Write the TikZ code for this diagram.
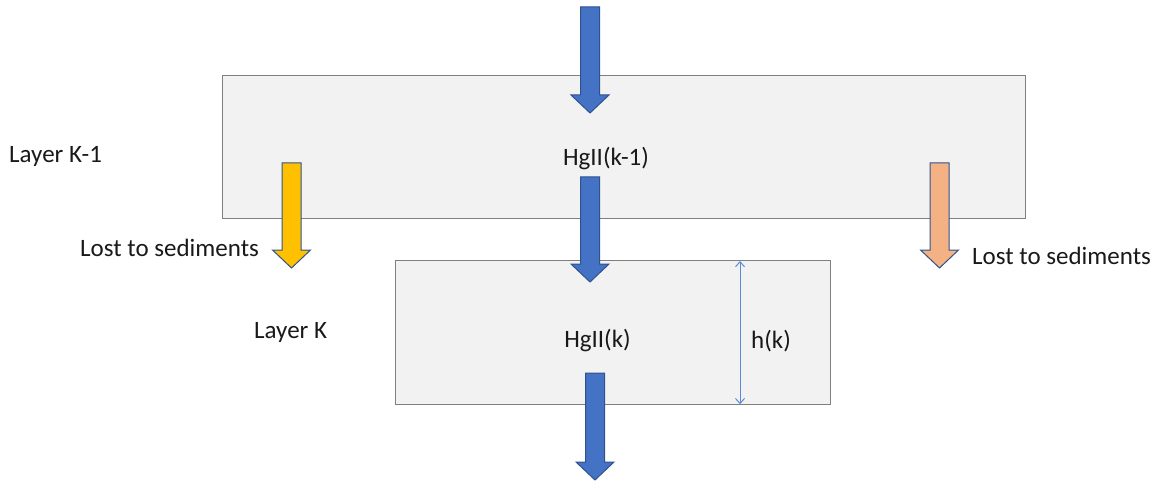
\documentclass[tikz,border=0pt]{standalone}
\usepackage{fontspec}
\setmainfont{Carlito}
\usetikzlibrary{arrows.meta}
\definecolor{boxfill}{HTML}{F2F2F2}
\definecolor{boxline}{HTML}{7F7F7F}
\definecolor{ablue}{HTML}{4472C4}
\definecolor{aedge}{HTML}{2F528F}
\definecolor{ayellow}{HTML}{FFC000}
\definecolor{aorange}{HTML}{F4B183}
\definecolor{hline}{HTML}{5B8BD6}
\tikzset{
  layerbox/.style={draw=boxline, fill=boxfill, line width=1.2pt},
  lbl/.style={font=\fontsize{25}{30}\selectfont, inner sep=0pt, text=black!90},
  fatarrow/.style={draw=aedge, line width=1pt, line join=miter},
}
% \fatdown{cx}{top}{headbase}{tip}{colour}
\newcommand{\fatdown}[5]{%
  \draw[fatarrow, fill=#5] (#1-9.5,#2) -- (#1+9.5,#2) -- (#1+9.5,#3) -- (#1+19,#3)
    -- (#1,#4) -- (#1-19,#3) -- (#1-9.5,#3) -- cycle;}
\begin{document}
\begin{tikzpicture}[x=1pt,y=-1pt]
\useasboundingbox (0,0) rectangle (1166,481);
% boxes
\node[layerbox, minimum width=803pt, minimum height=143pt, anchor=north west] (top) at (222,75) {};
\node[layerbox, minimum width=435pt, minimum height=144pt, anchor=north west] (bot) at (395,260) {};
% arrows
\fatdown{590}{7}{95}{113}{ablue}
\fatdown{590}{177}{264}{282}{ablue}
\fatdown{595}{373}{462}{480}{ablue}
\fatdown{291.5}{163}{250}{268}{ayellow}
\fatdown{939.5}{163}{250}{268}{aorange}
% height marker
\coordinate (hx) at (740,0);
\coordinate (ht) at (bot.north -| hx);
\coordinate (hb) at (bot.south -| hx);
\draw[hline, line width=1pt, <->, >={Straight Barb[length=5pt,width=9pt]}, shorten >=1pt, shorten <=1pt] (ht) -- (hb);
% labels
\node[lbl, anchor=base west] (l1) at (9,163) {Layer K-1};
\node[lbl, anchor=base] (hg1) at (606,166) {HgII(k-1)};
\node[lbl, anchor=base west] (ls1) at (80,256) {Lost to sediments};
\node[lbl, anchor=base west] (ls2) at (972,264) {Lost to sediments};
\node[lbl, anchor=base west] (l2) at (254,338) {Layer K};
\node[lbl, anchor=base] (hg2) at (597.5,347) {HgII(k)};
\node[lbl, anchor=base west] (hk) at (751,348) {h(k)};
\end{tikzpicture}
\end{document}
